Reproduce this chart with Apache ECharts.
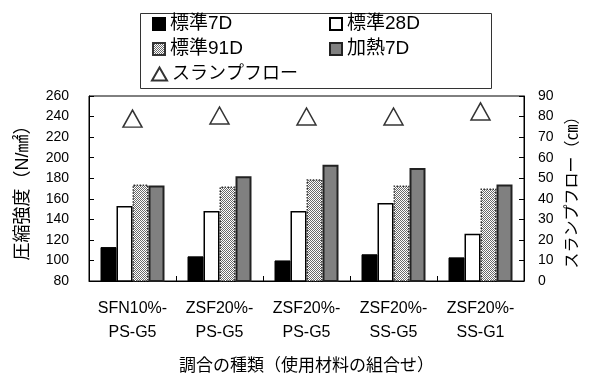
<!DOCTYPE html>
<html>
<head>
<meta charset="utf-8">
<script src="https://cdn.jsdelivr.net/npm/echarts@6/dist/echarts.min.js"></script>
<style>
  html, body { margin: 0; padding: 0; background: #fff; }
  #chart { width: 600px; height: 380px; }
</style>
</head>
<body>
<div id="chart"></div>
<script>
// Mix designs (two-line category labels)
const categories = [
  'SFN10%-\nPS-G5',
  'ZSF20%-\nPS-G5',
  'ZSF20%-\nPS-G5',
  'ZSF20%-\nSS-G5',
  'ZSF20%-\nSS-G1'
];

// Compressive strength (N/mm²)
const std7D  = [113, 104, 100, 106, 103];
const std28D = [153, 148, 148, 156, 126];
const std91D = [174, 172, 179, 173, 170];
const heat7D = [173, 182, 193, 190, 174];

// Slump flow (cm)
const slumpFlow = [79, 80.5, 80, 80, 82.5];

const seriesNames = ['標準7D', '標準28D', '標準91D', '加熱7D', 'スランプフロー'];

const FONT = '"Liberation Sans", "Noto Sans CJK JP", sans-serif';

// Fine checker fill for the 91-day bars
function checkerPattern() {
  const c = document.createElement('canvas');
  c.width = 2; c.height = 2;
  const ctx = c.getContext('2d');
  ctx.fillStyle = '#ffffff';
  ctx.fillRect(0, 0, 2, 2);
  ctx.fillStyle = '#6a6a6a';
  ctx.fillRect(0, 0, 1, 1);
  ctx.fillRect(1, 1, 1, 1);
  return c;
}
const checker = { image: checkerPattern(), repeat: 'repeat' };

const chart = echarts.init(document.getElementById('chart'), null, { renderer: 'canvas' });

const legendBase = {
  padding: 0,
  icon: 'rect',
  itemWidth: 12,
  itemHeight: 12,
  itemGap: 5,
  selectedMode: false,
  textStyle: { fontFamily: FONT, fontSize: 19, color: '#000', lineHeight: 20 }
};

const option = {
  backgroundColor: '#fff',
  animation: false,
  textStyle: { fontFamily: FONT },
  graphic: [{
    type: 'rect',
    left: 138, top: 11,
    shape: { width: 351, height: 75 },
    style: { fill: 'none', stroke: '#333', lineWidth: 1 },
    silent: true
  }],
  legend: [
    Object.assign({}, legendBase, { data: [seriesNames[0]], left: 152, top: 14 }),
    Object.assign({}, legendBase, { data: [seriesNames[1]], left: 329, top: 14 }),
    Object.assign({}, legendBase, { data: [seriesNames[2]], left: 152, top: 39 }),
    Object.assign({}, legendBase, { data: [seriesNames[3]], left: 329, top: 39 }),
    Object.assign({}, legendBase, {
      data: [seriesNames[4]], left: 151, top: 64, icon: 'triangle',
      itemWidth: 15, itemHeight: 13,
      textStyle: { fontFamily: FONT, fontSize: 18, color: '#000', lineHeight: 20 }
    })
  ],
  grid: {
    left: 89, right: 76, top: 96, bottom: 93,
    show: true, borderColor: '#000', borderWidth: 1, backgroundColor: 'transparent'
  },
  xAxis: {
    type: 'category',
    data: categories,
    axisLine: { lineStyle: { color: '#000', width: 1 } },
    axisTick: { show: true, inside: true, length: 5, interval: 0, lineStyle: { color: '#000' } },
    axisLabel: {
      interval: 0, margin: 16, color: '#000',
      fontFamily: FONT, fontSize: 16, lineHeight: 24
    },
    name: '調合の種類（使用材料の組合せ）',
    nameLocation: 'middle',
    nameGap: 77,
    nameTextStyle: { fontFamily: FONT, fontSize: 17, color: '#000' }
  },
  yAxis: [
    {
      type: 'value', min: 80, max: 260, interval: 20,
      axisLine: { show: true, lineStyle: { color: '#000', width: 1 } },
      axisTick: { show: true, inside: true, length: 5, lineStyle: { color: '#000' } },
      splitLine: { show: false },
      axisLabel: { margin: 20, color: '#000', fontFamily: FONT, fontSize: 14 },
      name: '圧縮強度（N/㎟）',
      nameLocation: 'middle',
      nameRotate: 90,
      nameGap: 57,
      nameTextStyle: { fontFamily: FONT, fontSize: 18, color: '#000' }
    },
    {
      type: 'value', min: 0, max: 90, interval: 10,
      position: 'right',
      axisLine: { show: true, lineStyle: { color: '#000', width: 1 } },
      axisTick: { show: true, inside: true, length: 5, lineStyle: { color: '#000' } },
      splitLine: { show: false },
      axisLabel: { margin: 14, color: '#000', fontFamily: FONT, fontSize: 14 },
      name: 'スランプフロー（㎝）',
      nameLocation: 'middle',
      nameRotate: 90,
      nameGap: 38,
      nameTextStyle: { fontFamily: FONT, fontSize: 16, color: '#000' }
    }
  ],
  series: [
    {
      name: seriesNames[0], type: 'bar', data: std7D,
      barWidth: 16, barGap: '0%',
      itemStyle: { color: '#000', borderColor: '#000', borderWidth: 1 }
    },
    {
      name: seriesNames[1], type: 'bar', data: std28D,
      barWidth: 16, barGap: '0%',
      itemStyle: { color: '#fff', borderColor: '#000', borderWidth: 1.5 }
    },
    {
      name: seriesNames[2], type: 'bar', data: std91D,
      barWidth: 16, barGap: '0%',
      itemStyle: { color: checker, borderColor: '#333', borderWidth: 1.5, borderType: 'dotted' }
    },
    {
      name: seriesNames[3], type: 'bar', data: heat7D,
      barWidth: 16, barGap: '0%',
      itemStyle: { color: '#808080', borderColor: '#222', borderWidth: 2 }
    },
    {
      name: seriesNames[4], type: 'scatter', yAxisIndex: 1, data: slumpFlow,
      symbol: 'triangle', symbolSize: [19, 17],
      itemStyle: { color: '#fff', borderColor: '#000', borderWidth: 1.5 },
      z: 5
    }
  ]
};

chart.setOption(option);
</script>
</body>
</html>
